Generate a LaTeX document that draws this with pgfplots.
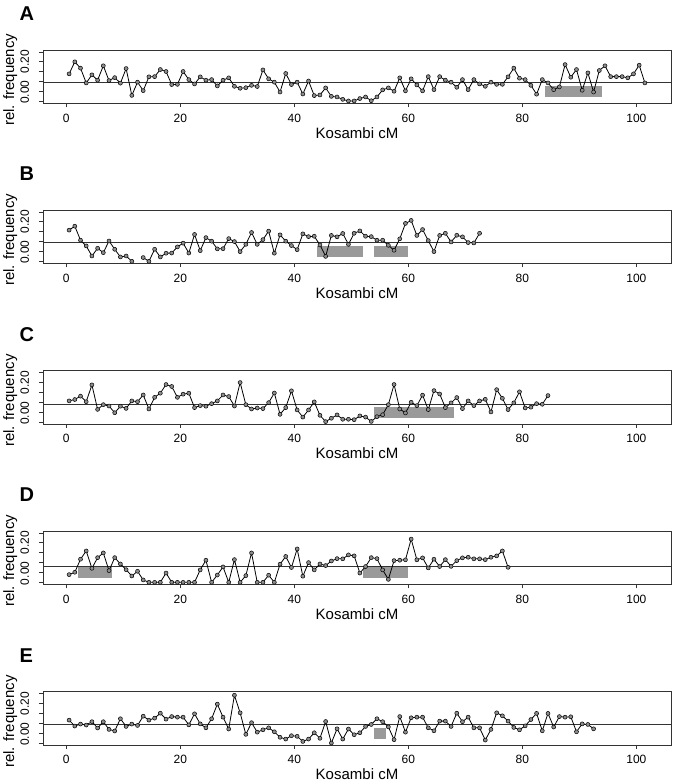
\documentclass[border=0pt]{standalone}
\usepackage{fontspec}
\setmainfont{Liberation Sans}
\usepackage{pgfplots}
\pgfplotsset{compat=1.18}
\definecolor{boxc}{HTML}{333333}
\definecolor{rectc}{HTML}{9A9A9A}
\definecolor{markc}{HTML}{8C8C8C}
\pgfplotsset{
 panel/.style={
  scale only axis, width=628pt, height=53.3pt,
  anchor=north west,
  xmin=-4.08, xmax=106.08, ymin=-0.01, ymax=0.26,
  xtick={0,20,40,60,80,100},
  ytick={0,0.05,0.1,0.15,0.2,0.25},
  yticklabels={\hspace*{18pt}0.00,,,,0.20,},
  tick align=outside, xtick pos=bottom, ytick pos=left,
  major tick length=4pt,
  axis line style={boxc, line width=0.9pt},
  every tick/.style={boxc, line width=0.9pt},
  tick label style={font=\fontsize{12}{14}\selectfont},
  /pgf/number format/assume math mode=true,
  xticklabel style={anchor=base, yshift=-15pt},
  yticklabel shift=10pt,
  yticklabel style={rotate=90, anchor=base},
  xlabel={Kosambi cM}, ylabel={rel. frequency},
  label style={font=\fontsize{15}{18}\selectfont},
  xlabel style={at={(axis description cs:0.5,0)}, anchor=base, yshift=-35pt},
  ylabel style={at={(axis description cs:-0.046,0.44)}, anchor=base},
  clip=false,
  unbounded coords=jump,
 },
 rect/.style={fill=rectc, draw=none},
 hl/.style={black!80, line width=0.8pt, mark=none},
 series/.style={black, line width=0.8pt, mark=*, mark size=2pt,
   mark options={fill=markc, draw=black, line width=0.5pt}},
}
\tikzset{letter/.style={anchor=base west, font=\bfseries\fontsize{20}{24}\selectfont}}
\begin{document}
\begin{tikzpicture}
\useasboundingbox (0pt,0pt) rectangle (675pt,783pt);
% ---------------- A
\begin{axis}[panel, at={(43pt,733pt)}]
\addplot[rect] coordinates {(84,0.022) (94,0.022) (94,0.078) (84,0.078)} -- cycle;
\addplot[hl] coordinates {(-4.08,0.097) (106.08,0.097)};
\addplot[series] coordinates {
(0.5,.139)(1.5,.200)(2.5,.168)(3.5,.093)(4.5,.134)(5.5,.107)(6.5,.180)(7.5,.105)(8.5,.120)(9.5,.092)
(10.5,.166)(11.5,.030)(12.5,.097)(13.5,.054)(14.5,.124)(15.5,.125)(16.5,.161)(17.5,.151)(18.5,.085)(19.5,.086)
(20.5,.151)(21.5,.110)(22.5,.088)(23.5,.124)(24.5,.107)(25.5,.110)(26.5,.078)(27.5,.107)(28.5,.119)(29.5,.076)
(30.5,.066)(31.5,.069)(32.5,.081)(33.5,.075)(34.5,.159)(35.5,.114)(36.5,.097)(37.5,.047)(38.5,.141)(39.5,.085)
(40.5,.097)(41.5,.037)(42.5,.103)(43.5,.029)(44.5,.032)(45.5,.068)(46.5,.025)(47.5,.022)(48.5,.010)(49.5,.002)
(50.5,.002)(51.5,.014)(52.5,.022)(53.5,.003)(54.5,.022)(55.5,.058)(56.5,.068)(57.5,.051)(58.5,.119)(59.5,.053)
(60.5,.114)(61.5,.083)(62.5,.053)(63.5,.125)(64.5,.059)(65.5,.125)(66.5,.107)(67.5,.097)(68.5,.071)(69.5,.110)
(70.5,.059)(71.5,.110)(72.5,.088)(73.5,.076)(74.5,.097)(75.5,.086)(76.5,.086)(77.5,.124)(78.5,.168)(79.5,.117)
(80.5,.110)(81.5,.081)(82.5,.036)(83.5,.110)(84.5,.093)(85.5,.059)(86.5,.073)(87.5,.186)(88.5,.122)(89.5,.161)
(90.5,.056)(91.5,.144)(92.5,.047)(93.5,.156)(94.5,.180)(95.5,.125)(96.5,.125)(97.5,.125)(98.5,.119)(99.5,.139)
(100.5,.183)(101.5,.093)};
\end{axis}
\node[letter] at (16pt,762pt) {A};
% ---------------- B
\begin{axis}[panel, at={(43pt,573pt)}]
\addplot[rect] coordinates {(44,0.022) (52,0.022) (52,0.078) (44,0.078)} -- cycle;
\addplot[rect] coordinates {(54,0.022) (60,0.022) (60,0.078) (54,0.078)} -- cycle;
\addplot[hl] coordinates {(-4.08,0.097) (106.08,0.097)};
\addplot[series] coordinates {
(0.5,.158)(1.5,.178)(2.5,.107)(3.5,.078)(4.5,.027)(5.5,.066)(6.5,.044)(7.5,.103)(8.5,.061)(9.5,.022)
(10.5,.027)(11.5,.000)(12.5,nan)(13.5,.019)(14.5,.000)(15.5,.061)(16.5,.022)(17.5,.041)(18.5,.042)(19.5,.073)
(20.5,.092)(21.5,.042)(22.5,.136)(23.5,.054)(24.5,.120)(25.5,.102)(26.5,.063)(27.5,.064)(28.5,.115)(29.5,.100)
(30.5,.049)(31.5,.086)(32.5,.146)(33.5,.086)(34.5,.110)(35.5,.153)(36.5,.041)(37.5,.134)(38.5,.102)(39.5,.080)
(40.5,.059)(41.5,.139)(42.5,.125)(43.5,.127)(44.5,.083)(45.5,.025)(46.5,.131)(47.5,.124)(48.5,.141)(49.5,.086)
(50.5,.142)(51.5,.154)(52.5,.127)(53.5,.125)(54.5,.107)(55.5,.107)(56.5,.081)(57.5,.056)(58.5,.114)(59.5,.192)
(60.5,.207)(61.5,.131)(62.5,.161)(63.5,.105)(64.5,.049)(65.5,.131)(66.5,.142)(67.5,.098)(68.5,.132)(69.5,.124)
(70.5,.095)(71.5,.093)(72.5,.142)};
\end{axis}
\node[letter] at (16pt,602pt) {B};
% ---------------- C
\begin{axis}[panel, at={(43pt,412.3pt)}]
\addplot[rect] coordinates {(54,0.022) (68,0.022) (68,0.078) (54,0.078)} -- cycle;
\addplot[hl] coordinates {(-4.08,0.090) (106.08,0.090)};
\addplot[series] coordinates {
(0.5,.107)(1.5,.114)(2.5,.131)(3.5,.103)(4.5,.188)(5.5,.064)(6.5,.088)(7.5,.081)(8.5,.047)(9.5,.080)
(10.5,.069)(11.5,.107)(12.5,.103)(13.5,.137)(14.5,.066)(15.5,.125)(16.5,.146)(17.5,.190)(18.5,.180)(19.5,.125)
(20.5,.141)(21.5,.146)(22.5,.073)(23.5,.083)(24.5,.080)(25.5,.093)(26.5,.107)(27.5,.137)(28.5,.129)(29.5,.081)
(30.5,.200)(31.5,.088)(32.5,.066)(33.5,.071)(34.5,.068)(35.5,.098)(36.5,.147)(37.5,.039)(38.5,.073)(39.5,.158)
(40.5,.061)(41.5,.025)(42.5,.061)(43.5,.102)(44.5,.034)(45.5,.002)(46.5,.019)(47.5,.036)(48.5,.014)(49.5,.014)
(50.5,.012)(51.5,.031)(52.5,.025)(53.5,.003)(54.5,.027)(55.5,.037)(56.5,.088)(57.5,.190)(58.5,.066)(59.5,.046)
(60.5,.100)(61.5,.083)(62.5,.136)(63.5,.063)(64.5,.159)(65.5,.142)(66.5,.073)(67.5,.097)(68.5,.124)(69.5,.068)
(70.5,.107)(71.5,.083)(72.5,.107)(73.5,.115)(74.5,.051)(75.5,.164)(76.5,.120)(77.5,.063)(78.5,.097)(79.5,.153)
(80.5,.071)(81.5,.075)(82.5,.093)(83.5,.090)(84.5,.134)};
\end{axis}
\node[letter] at (16pt,441.5pt) {C};
% ---------------- D
\begin{axis}[panel, at={(43pt,252pt)}]
\addplot[rect] coordinates {(2,0.020) (8,0.020) (8,0.076) (2,0.076)} -- cycle;
\addplot[rect] coordinates {(52,0.020) (60,0.020) (60,0.076) (52,0.076)} -- cycle;
\addplot[hl] coordinates {(-4.08,0.081) (106.08,0.081)};
\addplot[series] coordinates {
(0.5,.039)(1.5,.051)(2.5,.117)(3.5,.159)(4.5,.071)(5.5,.125)(6.5,.149)(7.5,.059)(8.5,.125)(9.5,.093)
(10.5,.064)(11.5,.032)(12.5,.056)(13.5,.012)(14.5,.000)(15.5,.000)(16.5,.000)(17.5,.047)(18.5,.000)(19.5,.000)
(20.5,.000)(21.5,.000)(22.5,.000)(23.5,.063)(24.5,.112)(25.5,.000)(26.5,.037)(27.5,.078)(28.5,.000)(29.5,.115)
(30.5,.000)(31.5,.034)(32.5,.149)(33.5,.000)(34.5,.000)(35.5,.036)(36.5,.000)(37.5,.092)(38.5,.131)(39.5,.075)
(40.5,.169)(41.5,.031)(42.5,.100)(43.5,.063)(44.5,.093)(45.5,.085)(46.5,.108)(47.5,.120)(48.5,.119)(49.5,.139)
(50.5,.134)(51.5,.047)(52.5,.080)(53.5,.125)(54.5,.120)(55.5,.063)(56.5,.015)(57.5,.110)(58.5,.112)(59.5,.114)
(60.5,.219)(61.5,.114)(62.5,.124)(63.5,.073)(64.5,.117)(65.5,.080)(66.5,.115)(67.5,.081)(68.5,.110)(69.5,.124)
(70.5,.127)(71.5,.119)(72.5,.119)(73.5,.115)(74.5,.127)(75.5,.134)(76.5,.159)(77.5,.076)};
\end{axis}
\node[letter] at (16pt,281pt) {D};
% ---------------- E
\begin{axis}[panel, at={(43pt,91.3pt)}]
\addplot[rect] coordinates {(54,0.022) (56,0.022) (56,0.076) (54,0.076)} -- cycle;
\addplot[hl] coordinates {(-4.08,0.092) (106.08,0.092)};
\addplot[series] coordinates {
(0.5,.116)(1.5,.086)(2.5,.096)(3.5,.091)(4.5,.108)(5.5,.076)(6.5,.108)(7.5,.069)(8.5,.061)(9.5,.123)
(10.5,.084)(11.5,.096)(12.5,.089)(13.5,.136)(14.5,.116)(15.5,.126)(16.5,.151)(17.5,.121)(18.5,.134)(19.5,.131)
(20.5,.131)(21.5,.092)(22.5,.148)(23.5,.097)(24.5,.077)(25.5,.123)(26.5,.197)(27.5,.131)(28.5,.071)(29.5,.242)
(30.5,.153)(31.5,.044)(32.5,.103)(33.5,.055)(34.5,.067)(35.5,.077)(36.5,.057)(37.5,.029)(38.5,.020)(39.5,.037)
(40.5,.034)(41.5,.008)(42.5,.020)(43.5,.052)(44.5,.024)(45.5,.109)(46.5,.000)(47.5,.072)(48.5,.020)(49.5,.071)
(50.5,.042)(51.5,.052)(52.5,.084)(53.5,.094)(54.5,.123)(55.5,.108)(56.5,.082)(57.5,.017)(58.5,.134)(59.5,.055)
(60.5,.128)(61.5,.131)(62.5,.131)(63.5,.077)(64.5,.062)(65.5,.111)(66.5,.111)(67.5,.084)(68.5,.151)(69.5,.108)
(70.5,.131)(71.5,.077)(72.5,.077)(73.5,.015)(74.5,.069)(75.5,.153)(76.5,.138)(77.5,.111)(78.5,.079)(79.5,.067)
(80.5,.087)(81.5,.119)(82.5,.150)(83.5,.062)(84.5,.150)(85.5,.081)(86.5,.134)(87.5,.131)(88.5,.133)(89.5,.057)
(90.5,.097)(91.5,.094)(92.5,.072)};
\end{axis}
\node[letter] at (16pt,120.5pt) {E};
\end{tikzpicture}
\end{document}
